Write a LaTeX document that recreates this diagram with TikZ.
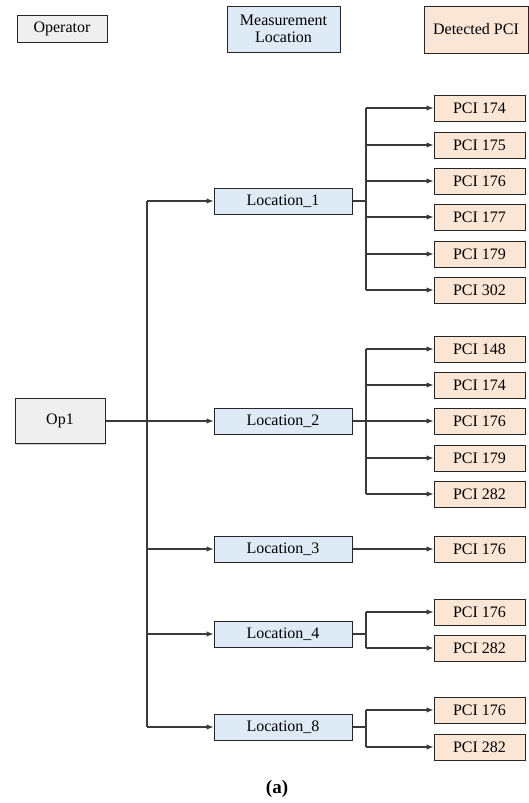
\documentclass[tikz,border=0pt]{standalone}
\usepackage{fontspec}
\setmainfont{Liberation Serif}
\newfontfamily\tnr{Liberation Serif}
\usetikzlibrary{arrows.meta,shadows}
\definecolor{opfill}{HTML}{EFEFEF}
\definecolor{locfill}{HTML}{DEEAF6}
\definecolor{pcifill}{HTML}{FBE5D5}
\definecolor{linec}{HTML}{3A3A3A}
\tikzset{
  base/.style={draw=black!85, line width=1pt, inner sep=0pt, align=center,
    font=\tnr\fontsize{16}{17.5}\selectfont,
    drop shadow={shadow xshift=1pt, shadow yshift=-1pt, fill=black!30, opacity=0.6}},
  opbox/.style={base, fill=opfill},
  locbox/.style={base, fill=locfill, minimum width=138pt, minimum height=26pt},
  pcibox/.style={base, fill=pcifill, minimum width=91pt, minimum height=26pt},
  conn/.style={draw=linec, line width=1.1pt},
  arr/.style={conn, -{Latex[length=7pt,width=5.5pt]}},
}
\begin{document}
\begin{tikzpicture}[x=1pt,y=-1pt]
\useasboundingbox (0,0) rectangle (528,803);
% legend
\node[opbox, minimum width=90pt, minimum height=27pt] (lgop) at (62,28.5) {Operator};
\node[base, fill=locfill, minimum width=113pt, minimum height=46pt] (lgloc) at (283.5,29) {Measurement\\[-1pt]Location};
\node[base, fill=pcifill, minimum width=104pt, minimum height=47pt] (lgpci) at (476,29.5) {Detected PCI};
% operator
\node[opbox, minimum width=90pt, minimum height=45pt] (op1) at (60,421) {Op1};
% locations
\node[locbox] (loc1) at (283,201) {Location\_1};
\node[locbox] (loc2) at (283,421) {Location\_2};
\node[locbox] (loc3) at (283,549) {Location\_3};
\node[locbox] (loc4) at (283,634) {Location\_4};
\node[locbox] (loc8) at (283,727) {Location\_8};
% PCI group 1
\node[pcibox] (p11) at (479.5,108) {PCI 174};
\node[pcibox] (p12) at (479.5,145) {PCI 175};
\node[pcibox] (p13) at (479.5,181) {PCI 176};
\node[pcibox] (p14) at (479.5,217) {PCI 177};
\node[pcibox] (p15) at (479.5,254) {PCI 179};
\node[pcibox] (p16) at (479.5,290) {PCI 302};
% PCI group 2
\node[pcibox] (p21) at (479.5,349) {PCI 148};
\node[pcibox] (p22) at (479.5,385) {PCI 174};
\node[pcibox] (p23) at (479.5,421) {PCI 176};
\node[pcibox] (p24) at (479.5,458) {PCI 179};
\node[pcibox] (p25) at (479.5,494) {PCI 282};
% PCI group 3
\node[pcibox] (p31) at (479.5,549) {PCI 176};
% PCI group 4
\node[pcibox] (p41) at (479.5,612) {PCI 176};
\node[pcibox] (p42) at (479.5,648) {PCI 282};
% PCI group 8
\node[pcibox] (p81) at (479.5,710) {PCI 176};
\node[pcibox] (p82) at (479.5,747) {PCI 282};
% caption
\node[font=\tnr\fontsize{19}{21}\selectfont\bfseries] (cap) at (277,789) {(a)};

% trunk
\coordinate (trunk) at (147,0);
\coordinate (br) at (366,0);
\draw[conn] (trunk |- loc1.west) -- (trunk |- loc8.west);
\draw[arr] (trunk |- loc1.west) -- (loc1.west);
\draw[arr] (op1.east) -- (loc2.west);
\draw[arr] (trunk |- loc3.west) -- (loc3.west);
\draw[arr] (trunk |- loc4.west) -- (loc4.west);
\draw[arr] (trunk |- loc8.west) -- (loc8.west);
% group 1
\draw[conn] (loc1.east) -- (br |- loc1.east);
\draw[conn] (br |- p11.west) -- (br |- p16.west);
\foreach \p in {p11,p12,p13,p14,p15,p16}{\draw[arr] (br |- \p.west) -- (\p.west);}
% group 2
\draw[conn] (br |- p21.west) -- (br |- p25.west);
\draw[arr] (loc2.east) -- (p23.west);
\foreach \p in {p21,p22,p24,p25}{\draw[arr] (br |- \p.west) -- (\p.west);}
% group 3
\draw[arr] (loc3.east) -- (p31.west);
% group 4
\draw[conn] (loc4.east) -- (br |- loc4.east);
\draw[conn] (br |- p41.west) -- (br |- p42.west);
\foreach \p in {p41,p42}{\draw[arr] (br |- \p.west) -- (\p.west);}
% group 8
\draw[conn] (loc8.east) -- (br |- loc8.east);
\draw[conn] (br |- p81.west) -- (br |- p82.west);
\foreach \p in {p81,p82}{\draw[arr] (br |- \p.west) -- (\p.west);}
\end{tikzpicture}
\end{document}
